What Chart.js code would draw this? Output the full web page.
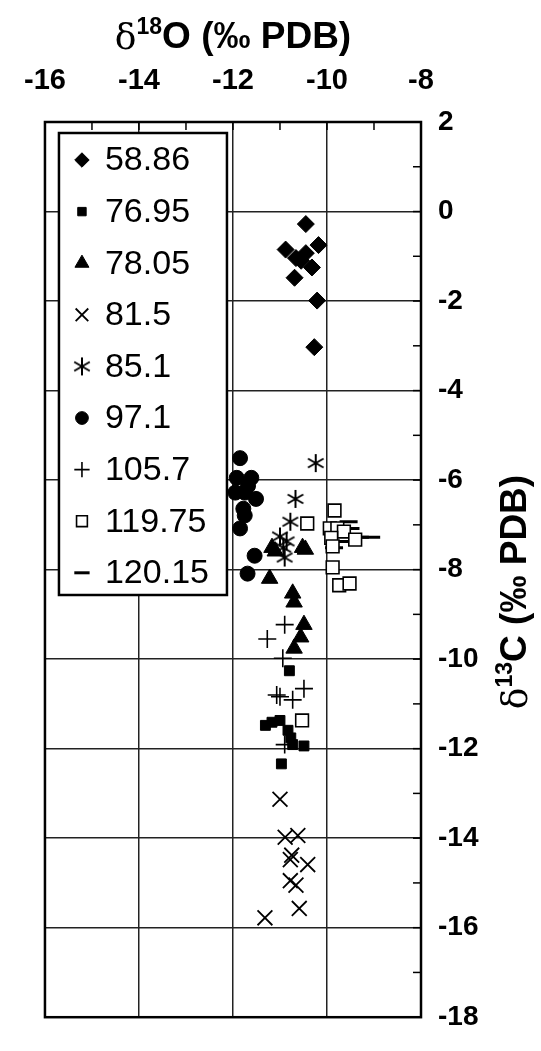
<!DOCTYPE html>
<html>
<head>
<meta charset="utf-8">
<script src="https://cdn.jsdelivr.net/npm/chart.js@4.4.0/dist/chart.umd.min.js"></script>
<style>
  html, body { margin: 0; padding: 0; background: #fff; }
  canvas { display: block; }
</style>
</head>
<body>
<canvas id="chart" width="541" height="1051"></canvas>
<script>
// sample labels (legend)
const seriesLabels = ['58.86', '76.95', '78.05', '81.5', '85.1', '97.1', '105.7', '119.75', '120.15'];

// d18O (x) and d13C (y) per sample
const o18_5886 = [-10.45, -10.88, -10.18, -10.66, -10.45, -10.55, -10.32, -10.69, -10.21, -10.27];
const c13_5886 = [-0.28, -0.85, -0.75, -1.04, -0.93, -1.10, -1.25, -1.48, -1.99, -3.03];

const o18_7695 = [-10.80, -11.31, -11.17, -11.00, -10.83, -10.77, -10.73, -10.49, -10.97];
const c13_7695 = [-10.26, -11.48, -11.41, -11.37, -11.59, -11.76, -11.91, -11.94, -12.34];

const o18_7805 = [-11.17, -11.10, -10.52, -10.46, -11.22, -10.73, -10.70, -10.49, -10.56, -10.70];
const c13_7805 = [-7.51, -7.59, -7.51, -7.55, -8.20, -8.53, -8.73, -9.23, -9.51, -9.76];

const o18_815 = [-11.00, -10.89, -10.62, -10.75, -10.78, -10.41, -10.78, -10.66, -10.59, -11.32];
const c13_815 = [-13.13, -13.98, -13.94, -14.38, -14.48, -14.59, -14.95, -15.05, -15.57, -15.78];

const o18_851 = [-10.24, -10.67, -10.78, -11.00, -10.86, -10.93, -10.90];
const c13_851 = [-5.62, -6.42, -6.93, -7.26, -7.37, -7.51, -7.73];

const o18_971 = [-11.85, -11.92, -11.61, -11.95, -11.75, -11.68, -11.51, -11.78, -11.75, -11.85, -11.54, -11.69];
const c13_971 = [-5.51, -5.95, -5.95, -6.28, -6.28, -6.13, -6.42, -6.64, -6.79, -7.08, -7.69, -8.09];

const o18_1057 = [-10.90, -11.27, -10.94, -11.07, -11.00, -10.73, -10.49, -10.90];
const c13_1057 = [-9.23, -9.55, -9.98, -10.80, -10.84, -10.91, -10.66, -11.91];

const o18_11975 = [-9.84, -10.42, -9.94, -9.78, -9.64, -9.40, -9.91, -9.88, -9.88, -9.74, -9.52, -10.53];
const c13_11975 = [-6.68, -6.97, -7.08, -7.08, -7.15, -7.33, -7.29, -7.48, -7.95, -8.35, -8.31, -11.37];

const o18_12015 = [-9.54, -9.50, -9.30, -9.06, -9.71, -9.85];
const c13_12015 = [-6.93, -7.08, -7.28, -7.28, -7.37, -7.51];

const xValues = [o18_5886, o18_7695, o18_7805, o18_815, o18_851, o18_971, o18_1057, o18_11975, o18_12015];
const yValues = [c13_5886, c13_7695, c13_7805, c13_815, c13_851, c13_971, c13_1057, c13_11975, c13_12015];

// axis ranges
const xMin = -16, xMax = -8;
const yMin = -18, yMax = 2;

const FONT = '"Liberation Sans", Arial, Helvetica, sans-serif';

// six-armed asterisk marker
function makeAsterisk(size) {
  const c = document.createElement('canvas');
  c.width = size; c.height = size;
  const g = c.getContext('2d');
  g.strokeStyle = '#000';
  g.lineWidth = 2;
  const r = size / 2 - 1;
  const m = size / 2;
  [90, 30, 150].forEach(a => {
    const t = a * Math.PI / 180;
    g.beginPath();
    g.moveTo(m - Math.cos(t) * r, m - Math.sin(t) * r);
    g.lineTo(m + Math.cos(t) * r, m + Math.sin(t) * r);
    g.stroke();
  });
  return c;
}
const asterisk = makeAsterisk(20);

const styles = [
  { pointStyle: 'rectRot', radius: 8.5, bg: '#000', border: '#000', bw: 1 },
  { pointStyle: 'rect', radius: 7, bg: '#000', border: '#000', bw: 1 },
  { pointStyle: 'triangle', radius: 9.5, bg: '#000', border: '#000', bw: 1 },
  { pointStyle: 'crossRot', radius: 10.5, bg: '#000', border: '#000', bw: 1.8 },
  { pointStyle: asterisk, radius: 10, bg: '#000', border: '#000', bw: 1.8 },
  { pointStyle: 'circle', radius: 7.5, bg: '#000', border: '#000', bw: 1 },
  { pointStyle: 'cross', radius: 9, bg: '#000', border: '#000', bw: 1.6 },
  { pointStyle: 'rect', radius: 9, bg: '#fff', border: '#000', bw: 1.6 },
  { pointStyle: 'line', radius: 9, bg: '#000', border: '#000', bw: 3 }
];

const datasets = seriesLabels.map((label, i) => ({
  label,
  data: xValues[i].map((x, j) => ({ x, y: yValues[i][j] })),
  pointStyle: styles[i].pointStyle,
  pointRadius: styles[i].radius,
  pointBackgroundColor: styles[i].bg,
  pointBorderColor: styles[i].border,
  pointBorderWidth: styles[i].bw,
  showLine: false
}));

// draw a title with a superscript part
function drawSupTitle(ctx, cx, cy, rot, sup, rest) {
  const big = 'bold 37px ' + FONT;
  const small = 'bold 23px ' + FONT;
  const greek = '36px "DejaVu Serif", serif';
  ctx.save();
  ctx.translate(cx, cy);
  ctx.rotate(rot);
  ctx.fillStyle = '#000';
  ctx.textBaseline = 'middle';
  ctx.textAlign = 'left';
  ctx.font = greek; const w1 = ctx.measureText('\u03b4').width;
  ctx.font = small; const w2 = ctx.measureText(sup).width;
  ctx.font = big; const w3 = ctx.measureText(rest).width;
  let x = -(w1 + w2 + w3) / 2;
  ctx.font = greek; ctx.fillText('\u03b4', x, 2); x += w1;
  ctx.font = small; ctx.fillText(sup, x, -10); x += w2;
  ctx.font = big; ctx.fillText(rest, x, 0);
  ctx.restore();
}

const framePlugin = {
  id: 'frame',
  afterDraw(chart) {
    const { ctx, chartArea: a, scales } = chart;
    ctx.save();
    // inward tick marks
    ctx.strokeStyle = '#000';
    ctx.lineWidth = 1.5;
    scales.x.ticks.forEach((t, i) => {
      const px = scales.x.getPixelForTick(i);
      ctx.beginPath(); ctx.moveTo(px, a.top); ctx.lineTo(px, a.top + 8); ctx.stroke();
    });
    scales.y.ticks.forEach((t, i) => {
      const py = scales.y.getPixelForTick(i);
      ctx.beginPath(); ctx.moveTo(a.right, py); ctx.lineTo(a.right - 8, py); ctx.stroke();
    });
    // frame
    ctx.lineWidth = 2.5;
    ctx.strokeRect(a.left, a.top, a.right - a.left, a.bottom - a.top);

    // legend box inside plot
    const lx = a.left + 14, ly = a.top + 11, lw = 168, lh = 462;
    ctx.fillStyle = '#fff';
    ctx.fillRect(lx, ly, lw, lh);
    ctx.lineWidth = 2.5;
    ctx.strokeStyle = '#000';
    ctx.strokeRect(lx, ly, lw, lh);
    ctx.font = '34px ' + FONT;
    ctx.textBaseline = 'middle';
    ctx.textAlign = 'left';
    chart.data.datasets.forEach((ds, i) => {
      const cy = ly + 27 + i * 51.6;
      const s = styles[i];
      ctx.fillStyle = s.bg;
      ctx.strokeStyle = s.border;
      ctx.lineWidth = s.bw;
      Chart.helpers.drawPoint(ctx, { pointStyle: s.pointStyle, radius: s.radius * 0.85, rotation: 0, borderWidth: s.bw }, lx + 23, cy);
      ctx.fillStyle = '#000';
      ctx.fillText(ds.label, lx + 46, cy + 1);
    });
    ctx.restore();

    // axis titles
    drawSupTitle(ctx, 233, 38, 0, '18', 'O (\u2030 PDB)');
    drawSupTitle(ctx, 516, 592, -Math.PI / 2, '13', 'C (\u2030 PDB)');
  }
};

const gridColor = c => (c.tick && Math.round(c.tick.value) % 2 === 0) ? '#222' : 'rgba(0,0,0,0)';

new Chart(document.getElementById('chart').getContext('2d'), {
  type: 'scatter',
  data: { datasets },
  options: {
    responsive: false,
    animation: false,
    layout: { padding: { left: 31, right: 0, top: 0, bottom: 11 } },
    plugins: {
      legend: { display: false },
      tooltip: { enabled: false }
    },
    scales: {
      x: {
        type: 'linear',
        position: 'top',
        min: xMin,
        max: xMax,
        afterFit: s => { s.height = 122; },
        border: { display: false },
        grid: { color: gridColor, lineWidth: 1.5, drawTicks: false },
        ticks: {
          stepSize: 1,
          autoSkip: false,
          maxRotation: 0,
          padding: 24,
          color: '#000',
          font: { family: FONT, size: 29, weight: 'bold' },
          callback: v => (Math.round(v) % 2 === 0 ? String(v) : '')
        }
      },
      y: {
        type: 'linear',
        position: 'right',
        min: yMin,
        max: yMax,
        afterFit: s => { s.width = 120; },
        border: { display: false },
        grid: { color: gridColor, lineWidth: 1.5, drawTicks: false },
        ticks: {
          stepSize: 1,
          autoSkip: false,
          padding: 17,
          color: '#000',
          font: { family: FONT, size: 28, weight: 'bold' },
          callback: v => (Math.round(v) % 2 === 0 ? String(v) : '')
        }
      }
    }
  },
  plugins: [framePlugin]
});
</script>
</body>
</html>
